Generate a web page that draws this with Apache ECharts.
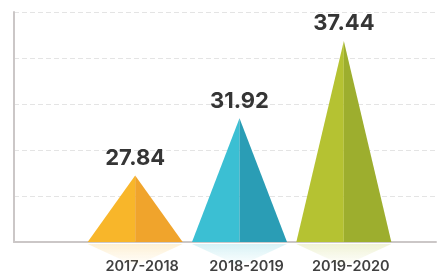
<!DOCTYPE html>
<html>
<head>
<meta charset="utf-8">
<script src="https://cdn.jsdelivr.net/npm/echarts@6/dist/echarts.min.js"></script>
<style>
  html, body { margin: 0; padding: 0; background: #fff; }
  #chart { width: 439px; height: 274px; }
</style>
</head>
<body>
<div id="chart"></div>
<script>
const categories = ['2017-2018', '2018-2019', '2019-2020'];
const values = [27.84, 31.92, 37.44];
const lightColors = ['#F8B62A', '#3BBFD3', '#B5C232'];
const darkColors = ['#F0A42C', '#2A9DB5', '#9DAE2E'];

const Y_MIN = 23.1;
const Y_MAX = 39.5;
const HALF = 47.5;

const chart = echarts.init(document.getElementById('chart'));

function renderPyramid(params, api) {
  const idx = api.value(0);
  const v = api.value(1);
  const top = api.coord([idx, v]);
  const base = api.coord([idx, Y_MIN]);
  const cx = top[0];
  const i = params.dataIndex;
  return {
    type: 'group',
    children: [
      {
        // faint reflection under the base line
        type: 'polygon',
        shape: { points: [[cx - HALF, base[1] + 2], [cx + HALF, base[1] + 2], [cx, base[1] + 24]] },
        style: {
          fill: {
            type: 'linear', x: 0, y: 0, x2: 0, y2: 1,
            colorStops: [
              { offset: 0, color: echarts.color.modifyAlpha(lightColors[i], 0.2) },
              { offset: 1, color: echarts.color.modifyAlpha(lightColors[i], 0) }
            ]
          }
        },
        z2: 1
      },
      {
        type: 'polygon',
        shape: { points: [[cx - HALF, base[1]], [cx, top[1]], [cx, base[1]]] },
        style: { fill: lightColors[i] }
      },
      {
        type: 'polygon',
        shape: { points: [[cx, base[1]], [cx, top[1]], [cx + HALF, base[1]]] },
        style: { fill: darkColors[i] }
      },
      {
        type: 'text',
        x: cx, y: top[1] - 6,
        style: {
          text: v.toFixed(2),
          align: 'center', verticalAlign: 'bottom',
          fontSize: 22, fontWeight: 'bold', fill: '#353535',
          fontFamily: 'Inter, sans-serif'
        }
      }
    ]
  };
}

const option = {
  animation: false,
  grid: [
    { left: 14, right: 3, top: 12, bottom: 32 },
    { left: 83, right: 43, top: 12, bottom: 32 }
  ],
  xAxis: [
    {
      gridIndex: 0, type: 'value', min: 0, max: 1,
      axisLine: { show: true, lineStyle: { color: '#cbc7c7', width: 2 } },
      axisTick: { show: false }, axisLabel: { show: false }, splitLine: { show: false }
    },
    {
      gridIndex: 1, type: 'category', data: categories,
      axisLine: { show: false }, axisTick: { show: false },
      axisLabel: {
        margin: 17, fontSize: 14.5, fontWeight: 600, color: '#404040',
        fontFamily: 'Inter, sans-serif', padding: [0, 0, 0, 14]
      }
    }
  ],
  yAxis: [
    {
      gridIndex: 0, type: 'value', min: 0, max: 5, interval: 1,
      axisLine: { show: true, lineStyle: { color: '#cbc7c7', width: 2 } },
      axisTick: { show: false }, axisLabel: { show: false },
      splitLine: { show: true, lineStyle: { color: '#e4e4e4', type: [5, 3], width: 1 } }
    },
    {
      gridIndex: 1, type: 'value', min: Y_MIN, max: Y_MAX,
      axisLine: { show: false }, axisTick: { show: false },
      axisLabel: { show: false }, splitLine: { show: false }
    }
  ],
  series: [{
    type: 'custom',
    xAxisIndex: 1, yAxisIndex: 1,
    renderItem: renderPyramid,
    encode: { x: 0, y: 1 },
    data: values.map((v, i) => [i, v]),
    clip: false,
    z: 3
  }]
};

chart.setOption(option);
</script>
</body>
</html>
